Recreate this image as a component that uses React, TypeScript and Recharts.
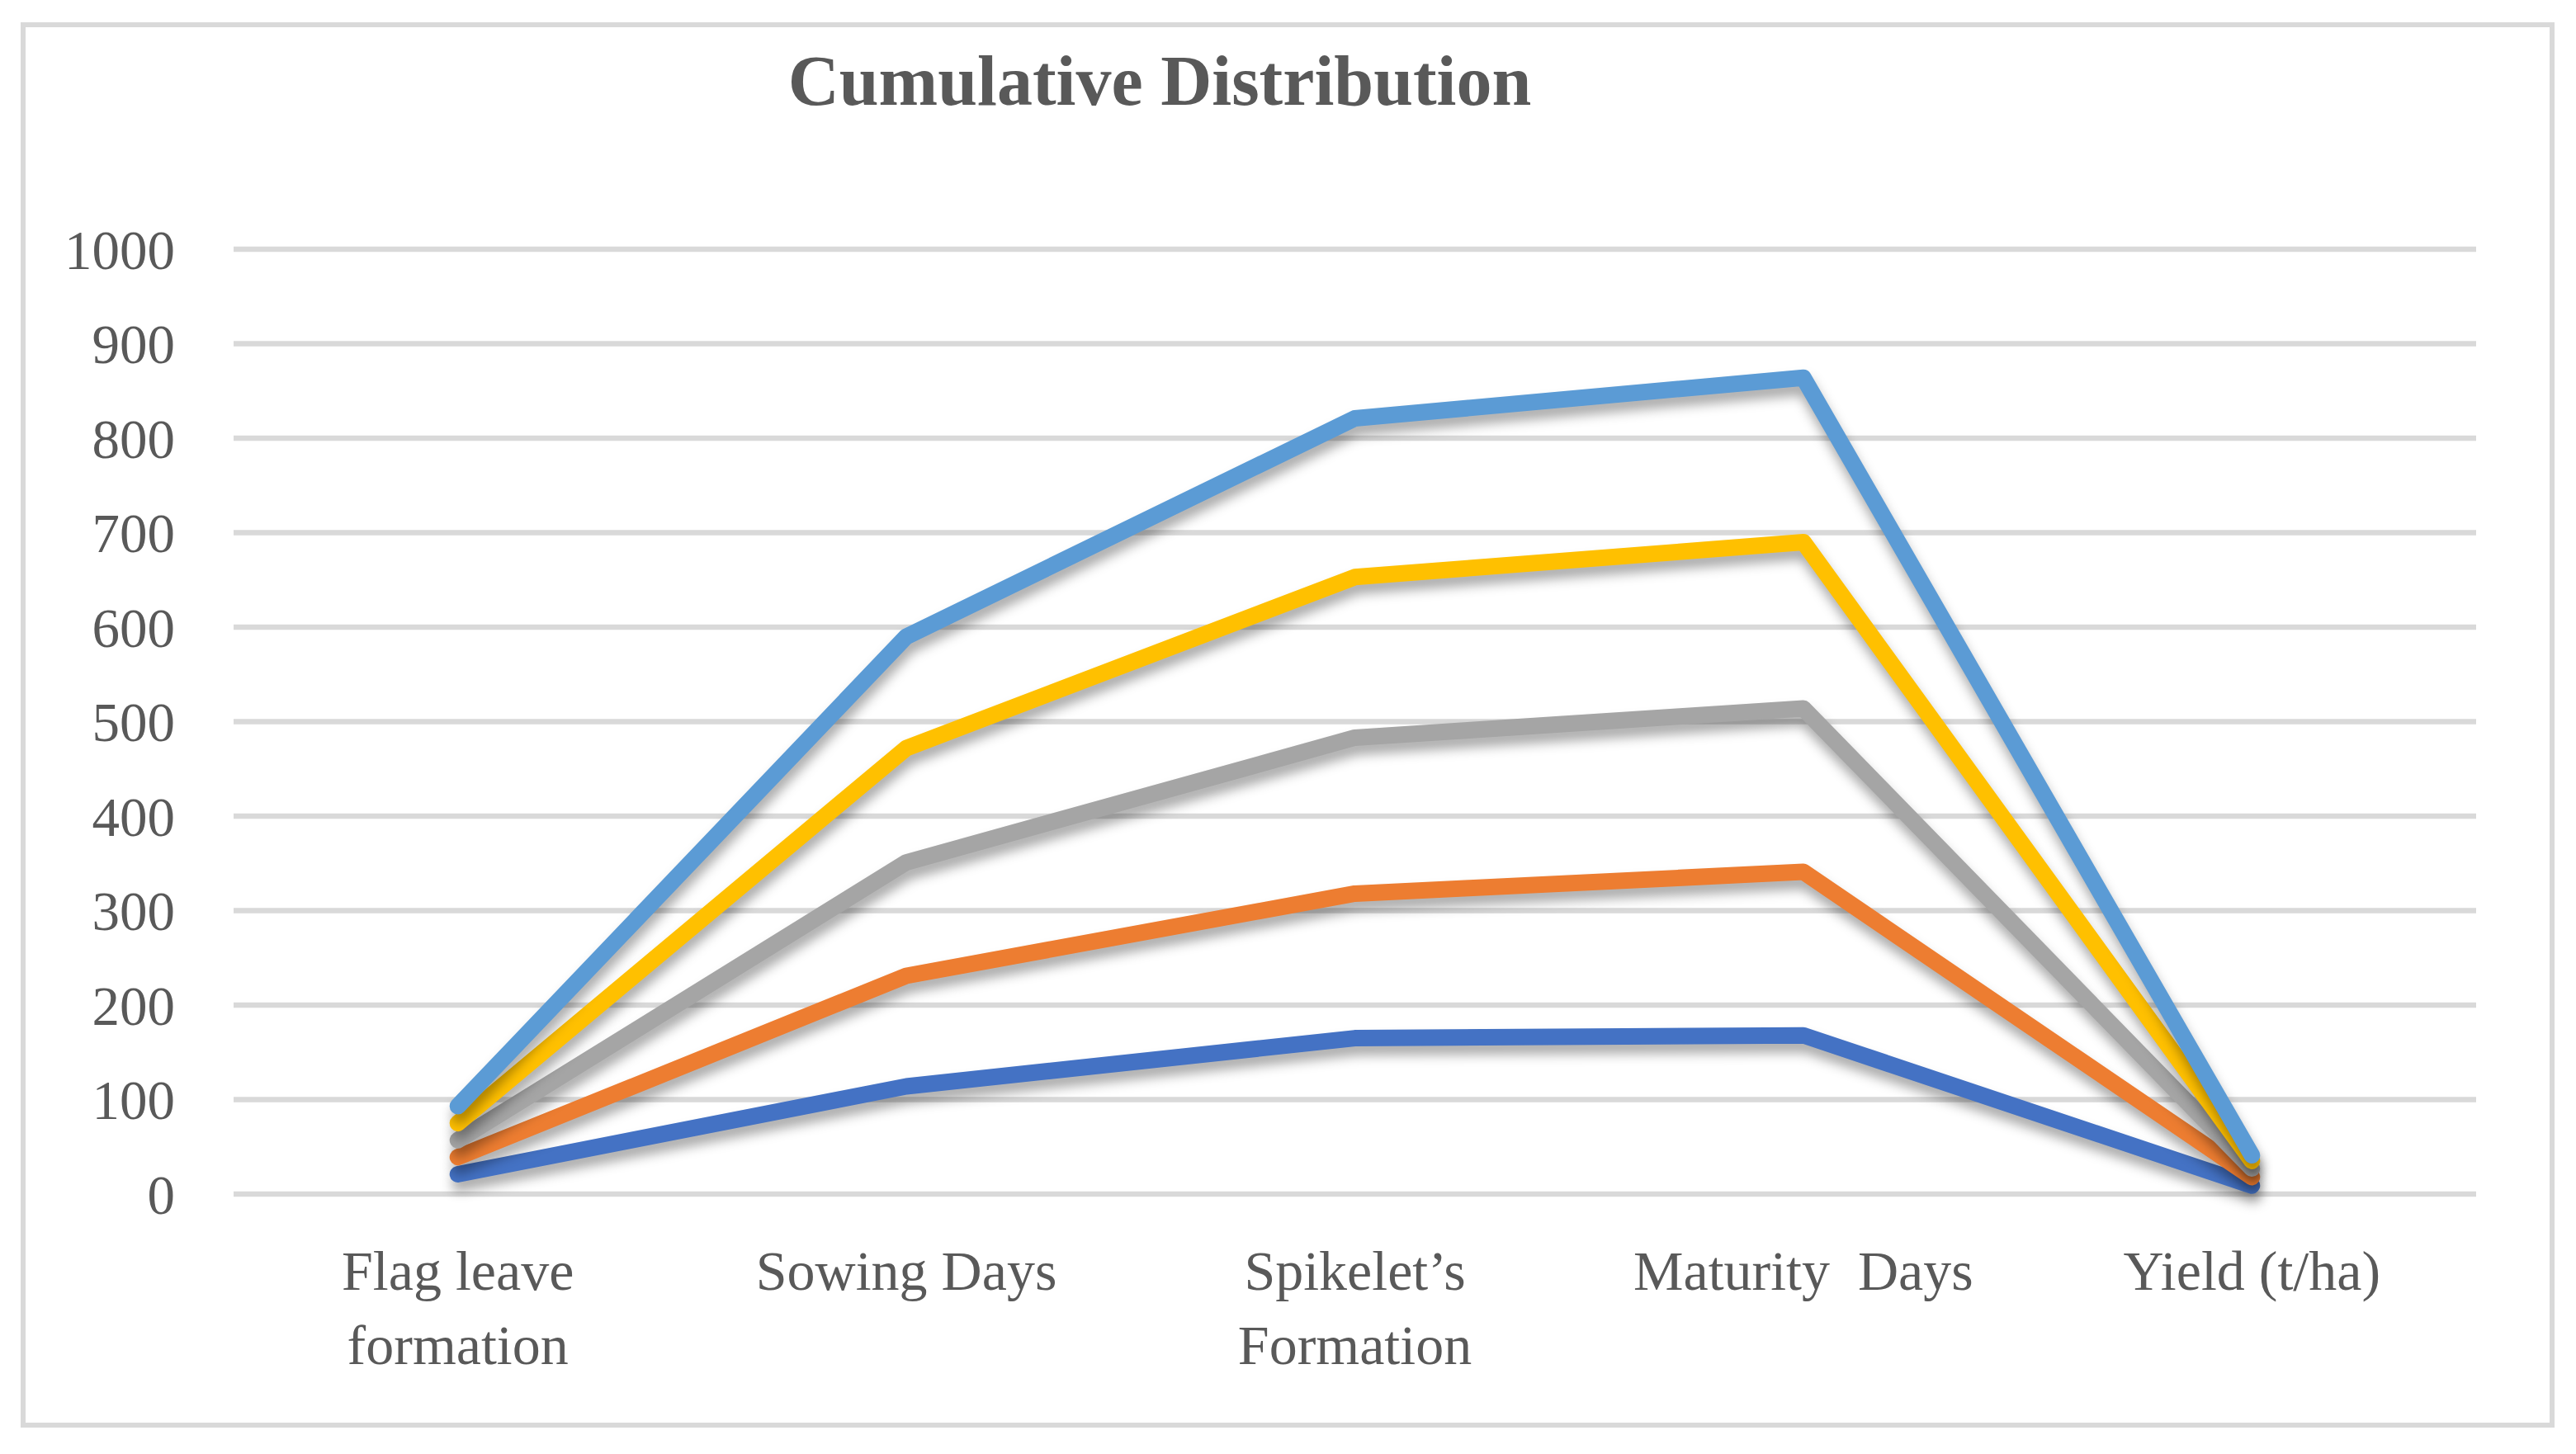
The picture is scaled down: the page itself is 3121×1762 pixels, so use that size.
import React from "react";
import { LineChart, Line, XAxis, YAxis, CartesianGrid } from "recharts";

const categories = [
  "Flag leave\nformation",
  "Sowing Days",
  "Spikelet\u2019s\nFormation",
  "Maturity  Days",
  "Yield (t/ha)",
];

const series1 = [21, 114, 165, 168, 9];
const series2 = [39, 231, 318, 341, 18];
const series3 = [57, 351, 483, 514, 27];
const series4 = [75, 472, 653, 690, 35];
const series5 = [93, 590, 821, 864, 41];

const yTicks = [0, 100, 200, 300, 400, 500, 600, 700, 800, 900, 1000];

const seriesList = [
  { key: "s1", values: series1, color: "#4472C4" },
  { key: "s2", values: series2, color: "#ED7D31" },
  { key: "s3", values: series3, color: "#A5A5A5" },
  { key: "s4", values: series4, color: "#FFC000" },
  { key: "s5", values: series5, color: "#5B9BD5" },
];

const data = categories.map((name, i) => {
  const row: Record<string, string | number> = { name };
  seriesList.forEach((s) => {
    row[s.key] = s.values[i];
  });
  return row;
});

const FONT = "'Liberation Serif', 'Times New Roman', serif";
const TEXT = "#595959";

// half of one category band (plot width 2717 / 5 / 2)
const BAND_HALF = 271.7;

function CategoryTick(props: any) {
  const { x, y, payload } = props;
  const lines = String(payload.value).split("\n");
  return (
    <text
      x={x}
      y={y + 116}
      textAnchor="middle"
      fill={TEXT}
      fontFamily={FONT}
      fontSize={68}
      style={{ whiteSpace: "pre" }}
    >
      {lines.map((l, i) => (
        <tspan key={i} x={x} dy={i === 0 ? 0 : 90}>
          {l}
        </tspan>
      ))}
    </text>
  );
}

export default function App() {
  return (
    <div style={{ position: "relative", width: 3121, height: 1762, background: "#fff" }}>
      <style>{`
        body { margin: 0; }
        .recharts-line-curve { filter: drop-shadow(2px 11px 7px rgba(0,0,0,0.33)); }
      `}</style>
      <div
        style={{
          position: "absolute",
          left: 25,
          top: 27,
          width: 3070,
          height: 1703,
          border: "6px solid #d9d9d9",
          boxSizing: "border-box",
        }}
      />
      <svg
        width={3121}
        height={200}
        style={{ position: "absolute", left: 0, top: 0, zIndex: 1 }}
      >
        <text
          x={1405}
          y={127}
          textAnchor="middle"
          fill={TEXT}
          fontFamily={FONT}
          fontWeight="bold"
          fontSize={86}
        >
          Cumulative Distribution
        </text>
      </svg>
      <div style={{ position: "absolute", left: 0, top: 0 }}>
        <LineChart
          width={3121}
          height={1762}
          data={data}
          margin={{ top: 302, right: 121, bottom: 0, left: 83 }}
        >
          <CartesianGrid
            vertical={false}
            stroke="#d9d9d9"
            strokeWidth={6.5}
          />
          <XAxis
            dataKey="name"
            axisLine={false}
            tickLine={false}
            tickSize={0}
            tickMargin={0}
            height={315}
            interval={0}
            padding={{ left: BAND_HALF, right: BAND_HALF }}
            tick={<CategoryTick />}
          />
          <YAxis
            domain={[0, 1000]}
            ticks={yTicks}
            width={200}
            axisLine={false}
            tickLine={false}
            tickSize={0}
            tickMargin={71}
            interval={0}
            tick={{ fill: TEXT, fontFamily: FONT, fontSize: 67 }}
          />
          {seriesList.map((s) => (
            <Line
              key={s.key}
              type="linear"
              dataKey={s.key}
              stroke={s.color}
              strokeWidth={20}
              strokeLinecap="round"
              strokeLinejoin="round"
              dot={false}
              activeDot={false}
              isAnimationActive={false}
            />
          ))}
        </LineChart>
      </div>
    </div>
  );
}
